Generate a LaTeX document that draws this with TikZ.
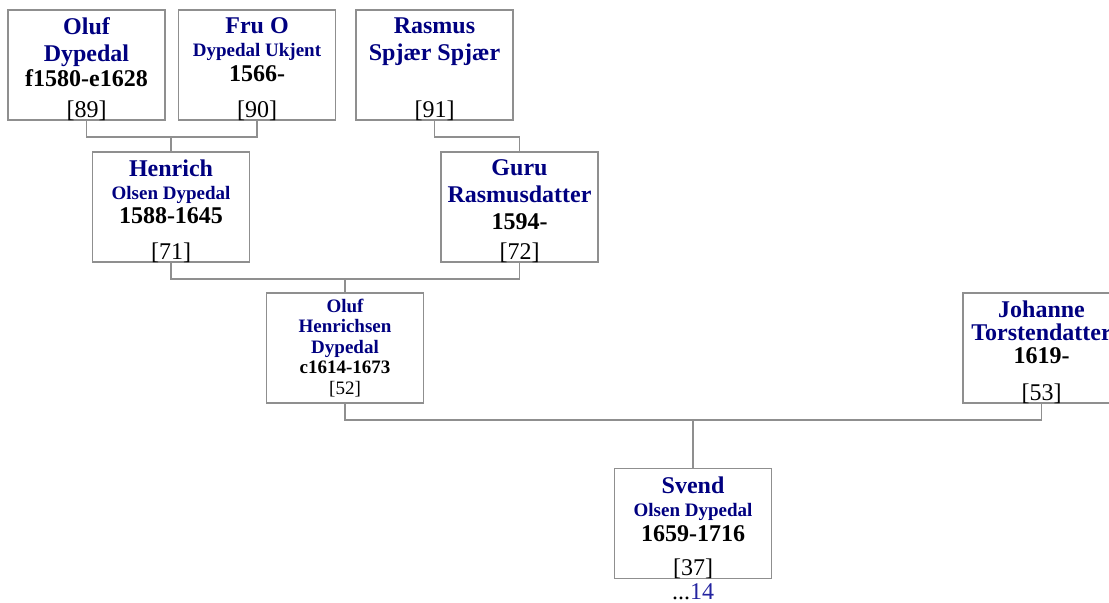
\documentclass[tikz,border=0pt]{standalone}
\usepackage{fontspec}
\setmainfont{Liberation Serif}
\usetikzlibrary{positioning,calc}
\definecolor{nm}{HTML}{000080}
\definecolor{frm}{HTML}{8F8F8F}
\definecolor{lnk}{HTML}{2424A0}
\newcommand{\bnm}[1]{{\fontsize{12}{13.5}\selectfont\bfseries\color{nm}#1}}
\newcommand{\snm}[1]{{\fontsize{9.5}{13.5}\selectfont\bfseries\color{nm}#1}}
\newcommand{\yrs}[1]{{\fontsize{12}{13.5}\selectfont\bfseries #1}}
\tikzset{
  pbox/.style={draw=frm, line width=0.75pt, minimum width=78.5pt, minimum height=55pt, inner sep=0pt},
  ptxt/.style={anchor=north, align=center, inner xsep=0pt, inner ysep=4.2pt, font=\fontsize{12}{13.5}\selectfont},
  pidx/.style={anchor=south, inner sep=0pt, font=\fontsize{12}{13.5}\selectfont},
  wire/.style={draw=frm, line width=0.9pt}}

\begin{document}
\begin{tikzpicture}[x=0.5pt, y=-0.5pt]
\useasboundingbox (0,0) rectangle (1109,603);
\node[pbox] (b89) at (86.5,65) {};
\node[ptxt] (t89) at (b89.north) {\bnm{Oluf}\\\bnm{Dypedal}\\[-1pt]\yrs{f1580-e1628}};
\node[pidx] (i89) at (b89.south) {[89]};
\node[pbox, right=6pt of b89] (b90) {};
\node[ptxt] (t90) at (b90.north) {\bnm{Fru O}\\[-2pt]\snm{Dypedal Ukjent}\\[-1pt]\yrs{1566-}};
\node[pidx] (i90) at (b90.south) {[90]};
\node[pbox] (b91) at (434.5,65) {};
\node[ptxt] (t91) at (b91.north) {\bnm{Rasmus}\\\bnm{Spjær Spjær}};
\node[pidx] (i91) at (b91.south) {[91]};
\node[pbox] (b71) at (171,207) {};
\node[ptxt] (t71) at (b71.north) {\bnm{Henrich}\\[-2pt]\snm{Olsen Dypedal}\\[-1.5pt]\yrs{1588-1645}};
\node[pidx] (i71) at (b71.south) {[71]};
\node[pbox] (b72) at (519.5,207) {};
\node[ptxt] (t72) at (b72.north) {\bnm{Guru}\\\bnm{Rasmusdatter}\\\yrs{1594-}};
\node[pidx] (i72) at (b72.south) {[72]};
\node[pbox] (b52) at (345,348) {};
\node[ptxt, inner ysep=3pt, font=\fontsize{9.5}{10.25}\selectfont] (t52) at (b52.north)
  {\snm{Oluf}\\\snm{Henrichsen}\\\snm{Dypedal}\\\textbf{c1614-1673}\\{}[52]};
\node[pbox] (b53) at (1041.5,348) {};
\node[ptxt] (t53) at (b53.north) {\bnm{Johanne}\\[-2pt]\bnm{Torstendatter}\\[-2pt]\yrs{1619-}};
\node[pidx] (i53) at (b53.south) {[53]};
\node[pbox] (b37) at (693,523.5) {};
\node[ptxt] (t37) at (b37.north) {\bnm{Svend}\\[-2pt]\snm{Olsen Dypedal}\\[-1pt]\yrs{1659-1716}};
\node[pidx] (i37) at (b37.south) {[37]};
\node[anchor=base, inner sep=0pt, font=\fontsize{12}{13.5}\selectfont] (more) at ($(b37.south)+(0,20)$) {...\textcolor{lnk}{14}};
\draw[wire] (b89.south) -- ++(0,16) coordinate (k1) -| (b90.south);
\draw[wire] (b71.north) -- (b71.north |- k1);
\draw[wire] (b91.south) -- ++(0,16) -| (b72.north);
\draw[wire] (b71.south) -- ++(0,16) coordinate (k2) -| (b72.south);
\draw[wire] (b52.north) -- (b52.north |- k2);
\draw[wire] (b52.south) -- ++(0,16) coordinate (k3) -| (b53.south);
\draw[wire] (b37.north) -- (b37.north |- k3);
\end{tikzpicture}
\end{document}
